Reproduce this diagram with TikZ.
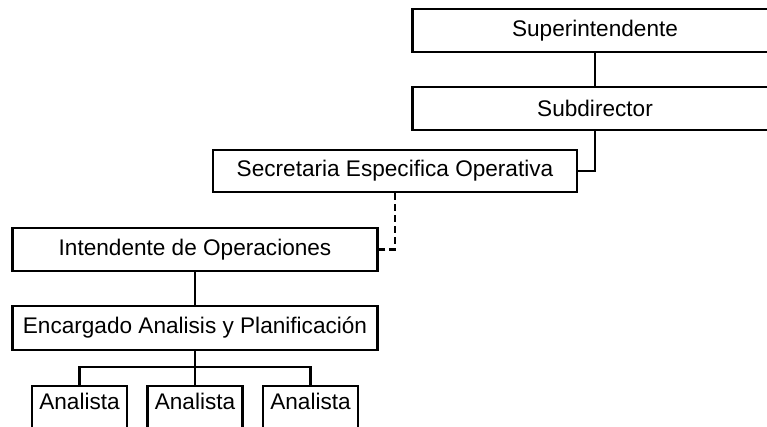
\documentclass[tikz,border=0pt]{standalone}
\usepackage{fontspec}
\setmainfont{Liberation Sans}
\begin{document}
\begin{tikzpicture}[x=1pt,y=-1pt,
  orgbox/.style={draw=black, line width=2.4pt, fill=white, inner sep=0pt,
    font=\fontsize{22.6}{26}\selectfont},
  wide/.style={orgbox, minimum width=365pt, minimum height=43pt},
  staff/.style={orgbox, minimum width=95pt, minimum height=46pt,
    text height=8pt, text depth=8pt},
  link/.style={draw=black, line width=2.6pt},
  dotlink/.style={link, dash pattern=on 7pt off 4pt}]
\useasboundingbox (0,0) rectangle (767,427);
\clip (0,0) rectangle (767,427);

% chain of command
\node[wide] (sup) at (595,30.5) {Superintendente};
\node[wide] (sub) at (595,108.5) {Subdirector};
\node[wide, minimum width=364pt, minimum height=42pt] (sec) at (395,171) {Secretaria Especifica Operativa};
\node[wide] (int) at (195,249.5) {Intendente de Operaciones};
\node[wide, minimum height=44pt] (enc) at (195,328) {Encargado Analisis y Planificación};

% analysts
\node[staff] (a1) at (79.5,409) {Analista};
\node[staff] (a2) at (195,409) {Analista};
\node[staff] (a3) at (310.5,409) {Analista};

\coordinate (bus) at (195,367);

\draw[link] (sup.south) -- (sub.north);
\draw[link] (sub.south) |- (sec.east);
\draw[dotlink] (sec.south) |- (int.east);
\draw[link] (int.south) -- (enc.north);
\draw[link] (enc.south) -- (bus);
\draw[link] (a1.north) |- (bus) -| (a3.north);
\draw[link] (bus) -- (a2.north);
\end{tikzpicture}
\end{document}
